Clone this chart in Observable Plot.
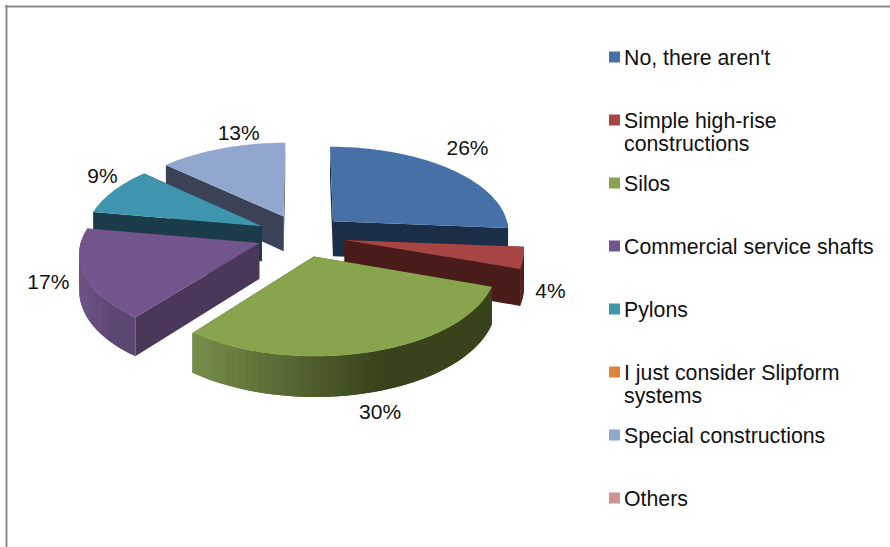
<!DOCTYPE html>
<html>
<head>
<meta charset="utf-8">
<script src="https://cdn.jsdelivr.net/npm/d3@7"></script>
<script src="https://cdn.jsdelivr.net/npm/@observablehq/plot@0.6"></script>
<style>html,body{margin:0;padding:0;background:#fff}svg{display:block}</style>
</head>
<body>
<div id="chart"></div>
<script>
const categories = ["No, there aren't","Simple high-rise\nconstructions","Silos","Commercial service shafts","Pylons","I just consider Slipform\nsystems","Special constructions","Others"];
const values = [26,4,30,17,9,0,13,0];
const topColors  = ["#4571a7","#a64543","#88a54d","#71558c","#4095ae","#db843d","#92a7cf","#d19392"];
const wallColors = ["#1b2e48","#4a1c19","#3a441c","#4a3759","#1a3c49","#5e3818","#3b4256","#5a3e3e"];
const rimStart   = ["#1f3553","#5c2422","#758c49","#6f5388","#22505f","#7a4a20","#4a5470","#7a5454"];
const rimEnd     = ["#1b2e48","#4a1c19","#38421b","#5c4672","#1a3c49","#5e3818","#3b4256","#5a3e3e"];
// Draw order back to front, by category index
const drawOrder = [6,4,0,3,1,2];
// Layout of the tilted, exploded pie
const W = 890, H = 547, cx = 300.5, cy = 235, R = 177, r = 85, persp = 0.103, explode = 0.25, depth = 35.5;
const labelOffset = {0:[17,-21],1:[27,-3],2:[8,20],3:[-36,-30],4:[-11,-15],6:[17,-15]};

const total = d3.sum(values);
function project(X, Y){
  const w = 1/(1 - persp*Y);
  return {x: cx + X*R*w, y: cy + Y*r*w, w};
}
const polys = [];
let pid = 0;
function addPoly(pts, fill){
  const id = pid++;
  for (const p of pts) polys.push({id, x:p.x, y:p.y, fill});
}
const slices = [];
let acc = 0;
values.forEach((v,i)=>{
  const a0 = acc/total*2*Math.PI; acc += v;
  const a1 = acc/total*2*Math.PI;
  slices[i] = {i, v, a0, a1, mid:(a0+a1)/2};
});
function rimPoint(s, a, rad=1){
  return project(explode*Math.sin(s.mid)+rad*Math.sin(a), -explode*Math.cos(s.mid)-rad*Math.cos(a));
}
const down = p => ({x:p.x, y:p.y+depth*p.w});
for (const i of drawOrder){
  const s = slices[i];
  const apex = rimPoint(s, 0, 0);
  const pa = rimPoint(s, s.a0), pb = rimPoint(s, s.a1);
  addPoly([apex, pa, down(pa), down(apex)], wallColors[i]);
  addPoly([apex, pb, down(pb), down(apex)], wallColors[i]);
  // rim: overlapping strips, shaded by horizontal position (light left, dark right)
  const steps = Math.max(2, Math.ceil((s.a1-s.a0)/(Math.PI/90)));
  const col = d3.interpolateRgb(rimStart[i], rimEnd[i]);
  const strips = [];
  for (let k=0;k<steps;k++){
    const b0=s.a0+(s.a1-s.a0)*k/steps;
    const b1=s.a0+(s.a1-s.a0)*Math.min(steps,k+2)/steps;
    if (Math.cos((b0+b0+(s.a1-s.a0)/steps)/2)>0.02) continue;
    const p0=rimPoint(s,b0),p1=rimPoint(s,b1);
    strips.push({p0,p1,xm:(p0.x+p1.x)/2});
  }
  if (strips.length){
    const ext=d3.extent(strips,d=>d.xm);
    for(const st of strips){
      let t=(st.xm-ext[0])/Math.max(1,ext[1]-ext[0]);
      t = Math.min(1,t/0.62);
      addPoly([st.p0,st.p1,down(st.p1),down(st.p0)],col(t));
    }
  }
  // top
  const top=[apex];
  const n=Math.ceil((s.a1-s.a0)/(Math.PI/120));
  for(let k=0;k<=n;k++) top.push(rimPoint(s,s.a0+(s.a1-s.a0)*k/n));
  addPoly(top, topColors[i]);
}
// Percent labels
const labels = slices.filter(s=>s.v>0).map(s=>{
  const p=rimPoint(s,s.mid);
  const o=labelOffset[s.i];
  const front=Math.cos(s.mid)<0;
  return {x:p.x+o[0], y:p.y+(front?depth*p.w:0)+o[1], text:Math.round(s.v)+"%"};
});
// Legend rows
const legend = categories.map((c,i)=>({name:c, color:topColors[i], yc:57+63*i}));

const plot = Plot.plot({
  width:W, height:H, margin:0,
  x:{domain:[0,W],range:[0,W],axis:null},
  y:{domain:[0,H],range:[0,H],axis:null},
  color:{type:"identity"},
  style:{fontFamily:"'Liberation Sans',Arial,sans-serif",background:"#fff"},
  marks:[
    Plot.ruleY([6],{x1:5,x2:W,stroke:"#8a8a8a",strokeWidth:2}),
    Plot.ruleX([6],{y1:5,y2:H,stroke:"#8a8a8a",strokeWidth:2}),
    Plot.line(polys,{x:"x",y:"y",z:"id",fill:"fill",curve:"linear-closed"}),
    Plot.text(labels,{x:"x",y:"y",text:"text",fontSize:21,fill:"#111"}),
    Plot.rect(legend,{x1:()=>609,x2:()=>620,y1:d=>d.yc-5.5,y2:d=>d.yc+5.5,fill:"color",inset:0}),
    Plot.text(legend,{x:()=>623.5,y:d=>d.yc-10,text:"name",textAnchor:"start",lineAnchor:"top",lineHeight:1.125,fontSize:21.3,fill:"#111"})
  ]
});
document.getElementById("chart").appendChild(plot);
</script>
</body>
</html>
